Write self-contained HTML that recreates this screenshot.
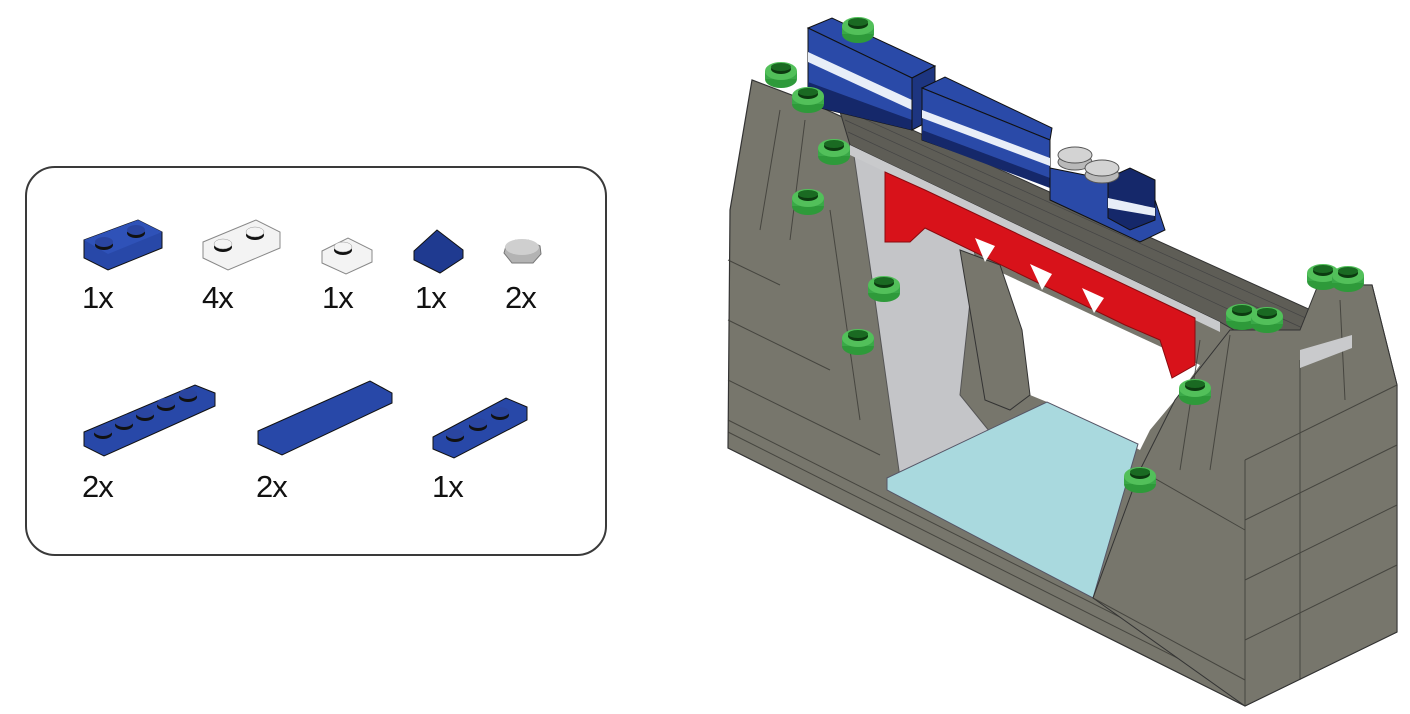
<!DOCTYPE html>
<html><head><meta charset="utf-8"><style>
html,body{margin:0;padding:0;background:#fff;}
body{width:1410px;height:714px;overflow:hidden;position:relative;font-family:"Liberation Sans",Arial,sans-serif;}
.box{position:absolute;left:25px;top:166px;width:578px;height:386px;border:2.5px solid #3a3a3a;border-radius:30px;}
.lbl{position:absolute;font-size:31px;color:#111;letter-spacing:-1px;}
svg{position:absolute;left:0;top:0;}
</style></head><body>
<div class="box"></div>
<div class="lbl" style="left:82px;top:280px">1x</div>
<div class="lbl" style="left:202px;top:280px">4x</div>
<div class="lbl" style="left:322px;top:280px">1x</div>
<div class="lbl" style="left:415px;top:280px">1x</div>
<div class="lbl" style="left:505px;top:280px">2x</div>
<div class="lbl" style="left:82px;top:469px">2x</div>
<div class="lbl" style="left:256px;top:469px">2x</div>
<div class="lbl" style="left:432px;top:469px">1x</div>
<svg width="1410" height="714" viewBox="0 0 1410 714">
<defs>
<g id="stud"><ellipse cx="0" cy="6" rx="16" ry="9" fill="#2e9a3a"/><rect x="-16" y="-2" width="32" height="8" fill="#3aa848"/><ellipse cx="0" cy="-2" rx="16" ry="9" fill="#52c05a"/><ellipse cx="0" cy="-4" rx="10" ry="5" fill="#0c3a10"/><ellipse cx="0" cy="-6" rx="10" ry="4" fill="#1a6a22"/></g>
<g id="bstud"><ellipse cx="0" cy="2" rx="9" ry="5" fill="#111"/><ellipse cx="0" cy="-1" rx="9" ry="5" fill="#2a45a0"/></g>
<g id="wstud"><ellipse cx="0" cy="2" rx="9" ry="5" fill="#111"/><ellipse cx="0" cy="-1" rx="9" ry="5" fill="#f4f4f4" stroke="#999" stroke-width=".5"/></g>
</defs>
<polygon points="84,240 138,220 162,232 162,248 108,270 84,258" fill="#2848a8" stroke="#111" stroke-width="1"/>
<polygon points="84,240 138,220 162,232 108,254" fill="#2f52b8"/>
<use href="#bstud" x="104" y="243"/><use href="#bstud" x="136" y="231"/>
<polygon points="203,242 256,220 280,232 280,248 228,270 203,258" fill="#f3f3f3" stroke="#888" stroke-width="1"/>
<use href="#wstud" x="223" y="245"/><use href="#wstud" x="255" y="233"/>
<polygon points="322,251 348,238 372,250 372,262 346,274 322,263" fill="#f3f3f3" stroke="#888" stroke-width="1"/>
<use href="#wstud" x="343" y="248"/>
<polygon points="414,251 437,230 463,250 463,258 440,273 414,260" fill="#1f3a90" stroke="#111" stroke-width="1"/>
<polygon points="504,253 506,246 516,240 528,240 540,246 541,254 533,263 512,263" fill="#b3b3b3" stroke="#777" stroke-width="1"/>
<ellipse cx="522" cy="247" rx="17" ry="8" fill="#cfcfcf"/>
<polygon points="84,432 195,385 215,393 215,406 104,456 84,446" fill="#2848a8" stroke="#111" stroke-width="1"/>
<use href="#bstud" x="103" y="432"/><use href="#bstud" x="124" y="423"/><use href="#bstud" x="145" y="414"/><use href="#bstud" x="166" y="404"/><use href="#bstud" x="188" y="395"/>
<polygon points="258,431 370,381 392,393 392,403 282,455 258,444" fill="#2848a8" stroke="#111" stroke-width="1"/>
<polygon points="433,437 506,398 527,407 527,420 454,458 433,449" fill="#2848a8" stroke="#111" stroke-width="1"/>
<use href="#bstud" x="455" y="435"/><use href="#bstud" x="478" y="424"/><use href="#bstud" x="500" y="413"/>

<polygon points="730,210 752,80 805,100 1310,330 1318,285 1372,285 1397,385 1397,632 1245,706 728,448" fill="#77766c" stroke="#333" stroke-width="1.2"/>
<g stroke="#3a3a35" stroke-width="1" fill="none" opacity=".8">
<line x1="728" y1="260" x2="780" y2="285"/><line x1="728" y1="320" x2="830" y2="370"/><line x1="728" y1="380" x2="880" y2="455"/><line x1="728" y1="420" x2="1245" y2="680"/><line x1="728" y1="432" x2="1245" y2="692"/>
<line x1="780" y1="110" x2="760" y2="230"/><line x1="805" y1="120" x2="790" y2="240"/><line x1="830" y1="210" x2="860" y2="420"/><line x1="890" y1="300" x2="930" y2="470"/>
</g>
<polygon points="1000,272 1200,365 1175,400 1150,430 1140,450 1047,402 1030,395 1022,330" fill="#fff"/>
<polygon points="852,142 962,185 975,255 960,395 990,432 900,478 875,300" fill="#c4c5c8" stroke="#555" stroke-width="1"/>
<polygon points="960,250 1000,265 1022,330 1030,395 1010,410 985,400" fill="#77766c" stroke="#333" stroke-width="1"/>
<polygon points="887,478 1047,402 1138,444 1093,598 887,490" fill="#a9d9de" stroke="#556" stroke-width="1"/>
<polygon points="835,95 1355,330 1352,348 1300,368 1220,322 850,145" fill="#5e5d56" stroke="#333" stroke-width="1"/>
<polygon points="850,145 1220,322 1220,332 850,155" fill="#c9cacc"/>
<g stroke="#444" stroke-width=".7"><line x1="840" y1="108" x2="1350" y2="338"/><line x1="845" y1="120" x2="1340" y2="345"/><line x1="848" y1="132" x2="1320" y2="352"/></g>
<polygon points="885,172 925,190 1195,318 1195,365 1172,378 1160,340 1125,325 925,228 910,242 885,242" fill="#d8121a" stroke="#8a0a0e" stroke-width="1"/>
<polygon points="975,238 995,246 985,262" fill="#fff"/><polygon points="1030,264 1052,274 1042,290" fill="#fff"/><polygon points="1082,288 1104,298 1094,313" fill="#fff"/>
<polygon points="1230,330 1300,330 1318,285 1372,285 1397,385 1397,632 1245,706 1093,598 1140,470 1175,400" fill="#77766c" stroke="#333" stroke-width="1"/>
<g stroke="#3a3a35" stroke-width="1" fill="none" opacity=".8">
<line x1="1245" y1="460" x2="1245" y2="706"/><line x1="1300" y1="360" x2="1300" y2="680"/><line x1="1245" y1="640" x2="1397" y2="565"/><line x1="1245" y1="580" x2="1397" y2="505"/><line x1="1245" y1="520" x2="1397" y2="445"/><line x1="1245" y1="460" x2="1397" y2="385"/><line x1="1093" y1="598" x2="1245" y2="680"/><line x1="1140" y1="470" x2="1245" y2="530"/>
<line x1="1200" y1="340" x2="1180" y2="470"/><line x1="1230" y1="335" x2="1210" y2="470"/><line x1="1340" y1="300" x2="1345" y2="400"/>
</g>
<polygon points="1300,350 1352,335 1352,348 1300,368" fill="#c9cacc"/>
<polygon points="808,28 832,18 935,66 912,78" fill="#2a4aa8" stroke="#111" stroke-width="1"/>
<polygon points="808,28 912,78 912,130 808,105" fill="#2a4aa8" stroke="#111" stroke-width="1"/>
<polygon points="808,52 912,100 912,110 808,62" fill="#e8eef8"/>
<polygon points="808,82 912,120 912,130 808,105" fill="#15286a"/>
<polygon points="912,78 935,66 935,118 912,130" fill="#1d3580" stroke="#111" stroke-width="1"/>
<polygon points="922,88 945,77 1052,128 1050,140" fill="#2a4aa8" stroke="#111" stroke-width="1"/>
<polygon points="922,88 1050,140 1050,185 922,140" fill="#2a4aa8" stroke="#111" stroke-width="1"/>
<polygon points="922,110 1050,158 1050,166 922,118" fill="#e8eef8"/>
<polygon points="922,130 1050,178 1050,188 922,140" fill="#15286a"/>
<polygon points="1050,168 1110,180 1155,200 1165,230 1140,242 1050,200" fill="#2a4aa8" stroke="#111" stroke-width="1"/>
<polygon points="1108,178 1130,168 1155,180 1155,220 1130,230 1108,218" fill="#15286a" stroke="#111" stroke-width="1"/>
<polygon points="1108,198 1155,208 1155,216 1108,208" fill="#e8eef8"/>
<ellipse cx="1075" cy="162" rx="17" ry="8" fill="#b9b9b9" stroke="#555"/><ellipse cx="1075" cy="155" rx="17" ry="8" fill="#d3d3d3" stroke="#555"/>
<ellipse cx="1102" cy="175" rx="17" ry="8" fill="#b9b9b9" stroke="#555"/><ellipse cx="1102" cy="168" rx="17" ry="8" fill="#d3d3d3" stroke="#555"/>
<use href="#stud" x="858" y="28"/><use href="#stud" x="781" y="73"/><use href="#stud" x="808" y="98"/><use href="#stud" x="834" y="150"/><use href="#stud" x="808" y="200"/><use href="#stud" x="884" y="287"/><use href="#stud" x="858" y="340"/>
<use href="#stud" x="1323" y="275"/><use href="#stud" x="1348" y="277"/><use href="#stud" x="1242" y="315"/><use href="#stud" x="1267" y="318"/><use href="#stud" x="1195" y="390"/><use href="#stud" x="1140" y="478"/>
</svg>
</body></html>
